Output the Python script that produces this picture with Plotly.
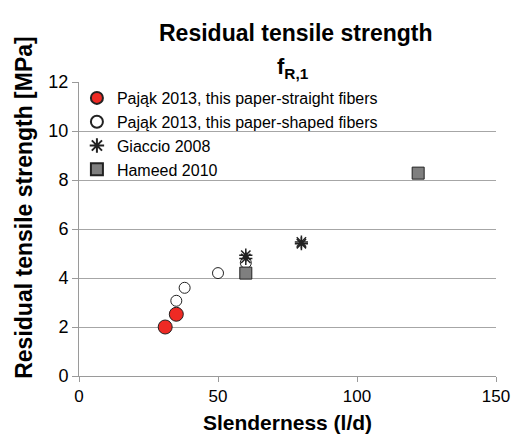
import plotly.graph_objects as go

# Data
straight_x = [31, 35]
straight_y = [2.0, 2.52]
shaped_x = [35, 38, 50, 60]
shaped_y = [3.07, 3.6, 4.2, 4.62]
giaccio_x = [60, 60, 80, 80]
giaccio_y = [4.8, 4.93, 5.4, 5.47]
hameed_x = [60, 122]
hameed_y = [4.2, 8.28]

FONT = "Liberation Sans, Arial, sans-serif"
W, H = 522, 442
L, R, T, B = 79, 17, 82, 65

fig = go.Figure()
fig.add_trace(go.Scatter(x=straight_x, y=straight_y, mode="markers",
    name="Pająk 2013, this paper-straight fibers",
    marker=dict(symbol="circle", size=14, color="#ee2a24", line=dict(color="#222222", width=1))))
fig.add_trace(go.Scatter(x=shaped_x, y=shaped_y, mode="markers",
    name="Pająk 2013, this paper-shaped fibers",
    marker=dict(symbol="circle", size=11, color="white", line=dict(color="#222222", width=1))))
fig.add_trace(go.Scatter(x=giaccio_x, y=giaccio_y, mode="markers",
    name="Giaccio 2008",
    marker=dict(symbol="asterisk-open", size=11, color="#222222", line=dict(color="#222222", width=1.5))))
fig.add_trace(go.Scatter(x=hameed_x, y=hameed_y, mode="markers",
    name="Hameed 2010",
    marker=dict(symbol="square", size=12, color="#7f7f7f", line=dict(color="#222222", width=1))))

plot_h = H - T - B
plot_w = W - L - R
def py(pix):
    return (H - B - pix) / plot_h
def px(pix):
    return (pix - L) / plot_w

fig.update_layout(
    width=W, height=H,
    margin=dict(l=L, r=R, t=T, b=B),
    paper_bgcolor="white", plot_bgcolor="white",
    font=dict(family=FONT, color="black", size=15),
    showlegend=True,
    legend=dict(x=-0.005, y=py(81), xanchor="left", yanchor="top",
                bgcolor="rgba(0,0,0,0)", font=dict(size=16, family=FONT),
                tracegroupgap=0, itemsizing="constant", itemwidth=30),
    xaxis=dict(range=[0, 150], dtick=50, showgrid=False, zeroline=False,
               showline=True, linecolor="#9a9a9a", linewidth=1,
               ticks="outside", ticklen=5, tickcolor="#9a9a9a",
               tickfont=dict(size=17),
               title=dict(text="<b>Slenderness (l/d)</b>", font=dict(size=21), standoff=9)),
    yaxis=dict(range=[0, 12], dtick=2, showgrid=True, gridcolor="#a6a6a6", gridwidth=1,
               zeroline=False, showline=True, linecolor="#9a9a9a", linewidth=1,
               ticks="outside", ticklen=6, tickcolor="#9a9a9a",
               tickfont=dict(size=18)),
    annotations=[
        dict(text="<b>Residual tensile strength</b>", x=px(301), y=py(33), xref="paper", yref="paper",
             showarrow=False, font=dict(size=23), yanchor="middle", xanchor="center"),
        dict(text="<b>f<sub>R,1</sub></b>", x=px(298), y=py(68), xref="paper", yref="paper",
             showarrow=False, font=dict(size=22), yanchor="middle", xanchor="center"),
        dict(text="<b>Residual tensile strength [MPa]</b>", x=px(22), y=py(208), xref="paper", yref="paper",
             showarrow=False, font=dict(size=23), textangle=-90, xanchor="center", yanchor="middle"),
    ],
)

fig.write_html("out.html")
